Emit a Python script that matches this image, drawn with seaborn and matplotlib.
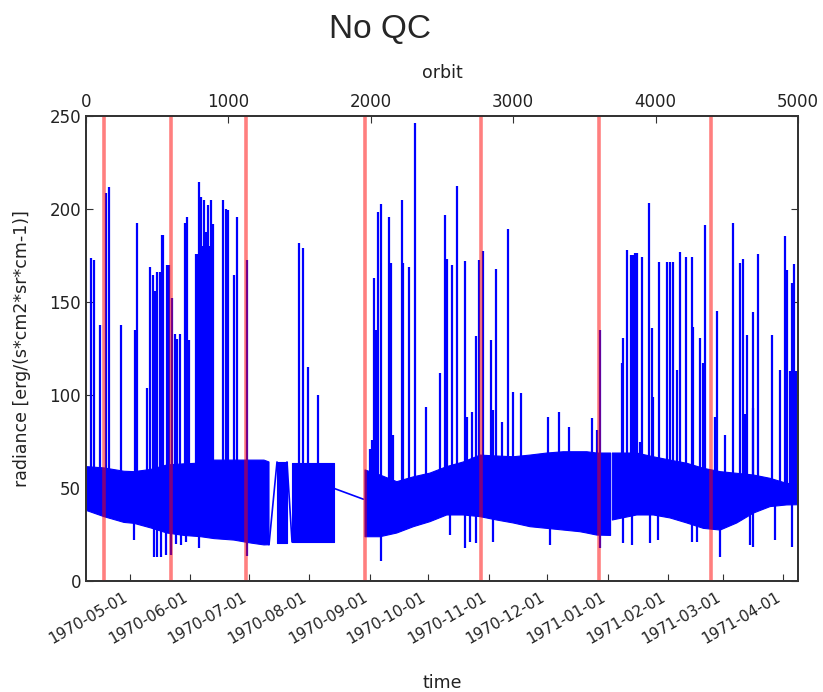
import numpy as np
import pandas as pd
import matplotlib
matplotlib.use("Agg")
import matplotlib.pyplot as plt
import matplotlib.dates as mdates
import seaborn as sns

sns.set_style("ticks")
plt.rcParams["font.family"] = ["DejaVu Sans"]

nan = np.nan
START = pd.Timestamp("1970-04-08")
X_RANGE_DAYS = (0.44, 365.5)
ORBIT_RANGE = (0, 5000)
Y_RANGE = (0, 250)

# Orbit-to-orbit variation envelope (days since START); NaN separates data gaps
band_day = [0.44, 9.67, 19.92, 25.05, 33.77, 41.97, 50.69, 59.41, 66.07, 76.33, 85.04, 91.71, 94.27, nan,
            98.37, 103.5, nan,
            106.07, 116.8, 127.6, nan,
            143.5, 151.2, 159.8, 168.3, 176.8, 185.4, 193.9, 202.5, 211.0, 219.5, 228.1, 236.7, 245.2,
            253.7, 257.2, 262.3, 269.4, nan,
            270.3, 282.8, 291.3, 299.9, 308.5, 317.0, 325.6, 334.1, 342.6, 351.2, 359.7, 365.5]
band_low = [38, 34.6, 31.5, 31, 28.5, 25.8, 24.5, 23.8, 22.8, 22, 20.4, 19.4, 19.5, nan,
            20.4, 20.4, nan,
            21, 21, 21, nan,
            23.8, 23.8, 25.8, 29.2, 31.9, 35.5, 35.5, 34.6, 32.8, 31.2, 29.2, 28.3, 27.4,
            26.5, 25.8, 24.7, 24.5, nan,
            32.8, 35.5, 35.5, 33.9, 31.2, 28.3, 27.4, 31.2, 36.5, 40, 40.9, 41]
band_high = [61.5, 60.8, 59, 58.8, 60, 62.4, 63, 63.4, 65, 65, 65, 65, 64, nan,
             64, 64, nan,
             63.4, 63.4, 63.4, nan,
             59.7, 57, 53.4, 56, 58, 61.5, 64, 67.7, 67.2, 66.8, 67.7, 68.8, 69.5,
             69.5, 69.5, 68.8, 68.8, nan,
             68.8, 68.8, 66.8, 65, 63.3, 60.6, 58.8, 57.9, 57, 55.2, 52.5, 52]

# Samples bridging the data gaps
link_segment = [0, 0, 1, 1, 2, 2]
link_day = [94.27, 98.37, 103.5, 106.07, 127.6, 142.6]
link_value = [19.5, 64, 64, 21, 49.8, 44.0]

# Upward outliers (days since START, peak radiance)
spike_up_day = [3.0, 4.3, 7.6, 10.7, 12.2, 18.2, 25.6, 26.7, 31.6, 33.3, 34.6, 35.8, 37.0, 38.4,
                39.2, 39.8, 42.1, 43.0, 44.4, 46.1, 47.1, 48.6, 51.2, 52.2, 53.3, 56.8, 57.6, 58.4,
                58.9, 59.4, 59.9, 60.7, 61.0, 61.5, 62.0, 62.4, 63.0, 63.4, 64.0, 64.4, 64.9, 65.4,
                70.7, 72.2, 73.2, 76.3, 77.7, 82.8, 109.7, 111.6, 114.4, 119.6,
                146.1, 147.1, 148.1, 149.1, 150.2, 151.7, 155.8, 156.8, 157.9, 162.3, 163.1, 165.8,
                169.1, 174.8, 182.0, 184.5, 185.5, 188.0, 190.5, 194.8, 195.6, 198.4, 200.4, 202.1,
                204.2, 208.1, 209.1, 210.9, 213.6, 217.0, 219.5, 223.5, 237.5, 243.1, 248.3, 260.1,
                262.3, 264.0, 275.1, 276.0, 278.0, 279.7, 280.8, 282.0, 282.8, 284.5, 285.4, 289.3,
                290.5, 291.3, 294.4, 298.2, 299.9, 301.3, 303.3, 305.0, 307.9, 311.0, 311.8, 315.3,
                317.0, 317.8, 323.0, 323.8, 328.1, 332.3, 335.8, 337.5, 338.4, 339.2, 342.3, 342.6,
                345.2, 352.0, 356.3, 358.9, 359.7, 361.4, 362.6, 363.6, 364.5]
spike_up_peak = [173.6, 172.6, 137.6, 208.6, 211.8, 137.6, 135, 192.4, 103.6, 169, 164.5, 156, 166, 166,
                 186, 186, 170, 170, 152, 133, 130, 133, 192.5, 195.7, 129.6, 176, 176, 214.7,
                 150, 206.6, 180, 204.8, 170, 185, 187.8, 160, 202, 175, 180, 205, 150, 192,
                 205, 200, 199.5, 164.5, 195.9, 172.6, 181.9, 178.9, 115, 100,
                 71, 76, 163, 135, 198.6, 202.7, 195.9, 171, 78.5, 204.8, 170.8, 169,
                 246.4, 93.7, 111.6, 197, 173, 170, 212.4, 172, 88.3, 91, 131.7, 172.6,
                 177.6, 129.6, 92, 168, 85.6, 189, 101.8, 100.9, 88.3, 91, 83, 87.5,
                 81, 135, 117, 130.5, 178, 175.3, 175.3, 176.5, 176.5, 75, 174.4, 203.4,
                 135.8, 99, 171.3, 171.7, 171.7, 171.7, 113.4, 177, 174.4, 174, 136.7, 130.5,
                 117, 191.4, 88.3, 145.3, 78.5, 192.3, 170.8, 173, 90, 132.3, 144.8, 92.8,
                 175.6, 132.3, 113.4, 185.5, 167.2, 113, 160.4, 170.3, 113]

# Downward outliers (days since START, minimum radiance)
spike_down_day = [25.0, 35.3, 36.8, 39.0, 41.5, 44.0, 46.4, 49.0, 51.6, 58.4, 83.1, 151.7, 187.1,
                  194.8, 197.3, 200.2, 209.1, 238.6, 264.0, 276.0, 280.3, 289.6, 293.9, 311.0,
                  313.6, 325.5, 340.9, 342.3, 353.7, 362.3]
spike_down_min = [22, 13, 13, 13, 14, 14, 20, 19.5, 21, 17.6, 13.3, 11, 24.7,
                  17.6, 21, 20.5, 21, 19.4, 18, 20.3, 19.4, 20.3, 22, 21,
                  21, 13, 19.4, 18.4, 22, 18.4]

# Orbit boundaries marked in red (days since START)
marker_day = [9.67, 43.87, 82.32, 143.5, 202.83, 263.23, 320.76]


def to_time(days):
    return START + pd.to_timedelta(np.asarray(days, dtype=float), unit="D")


fig = plt.figure(figsize=(8.23, 6.92), dpi=100)
ax = fig.add_axes([86 / 823, 111 / 692, 712 / 823, 465 / 692])

blue = "#0000ff"
band_t = to_time(band_day)
ax.fill_between(band_t, band_low, band_high, color=blue, lw=0.8, edgecolor=blue, zorder=2)

links = pd.DataFrame({"segment": link_segment, "time": to_time(link_day), "radiance": link_value})
sns.lineplot(data=links, x="time", y="radiance", units="segment", estimator=None,
             sort=False, color=blue, lw=1.2, ax=ax, legend=False, zorder=2)

base = 45.0
ax.vlines(to_time(spike_up_day), base, spike_up_peak, color=blue, lw=1.6, zorder=2)
ax.vlines(to_time(spike_down_day), spike_down_min, base, color=blue, lw=1.6, zorder=2)

for d in marker_day:
    ax.axvline(to_time([d])[0], color="red", alpha=0.5, lw=2.6, zorder=3)

ax.set_xlim(to_time([X_RANGE_DAYS[0]])[0], to_time([X_RANGE_DAYS[1]])[0])
ax.set_ylim(*Y_RANGE)
ax.set_yticks([0, 50, 100, 150, 200, 250])
ax.xaxis.set_major_locator(mdates.MonthLocator(bymonthday=1))
ax.xaxis.set_major_formatter(mdates.DateFormatter("%Y-%m-%d"))
ax.tick_params(axis="both", direction="in", labelsize=12, length=5, width=0.8, colors="#333333",
               labelcolor="#222222")
ax.tick_params(axis="x", labelsize=11, top=False, pad=6)
ax.tick_params(axis="y", right=True)
for lab in ax.get_xticklabels():
    lab.set_rotation(30)
    lab.set_ha("right")
ax.set_xlabel("time", fontsize=12.5, color="#222222", labelpad=20)
ax.set_ylabel("radiance [erg/(s*cm2*sr*cm-1)]", fontsize=12.5, color="#222222", labelpad=13)

ax2 = ax.twiny()
ax2.set_xlim(*ORBIT_RANGE)
ax2.set_xticks([0, 1000, 2000, 3000, 4000, 5000])
ax2.tick_params(axis="x", direction="in", labelsize=12, length=5, width=0.8, colors="#333333",
                labelcolor="#222222")
ax2.set_xlabel("orbit", fontsize=12.5, color="#222222", labelpad=11)

for a in (ax, ax2):
    for s in a.spines.values():
        s.set_color("#333333")
        s.set_linewidth(1.3)

fig.text(380 / 823, 1 - 30 / 692, "No QC", ha="center", va="center", fontsize=24,
         family=["Liberation Sans", "DejaVu Sans"])

fig.savefig("out.png", dpi=100)
